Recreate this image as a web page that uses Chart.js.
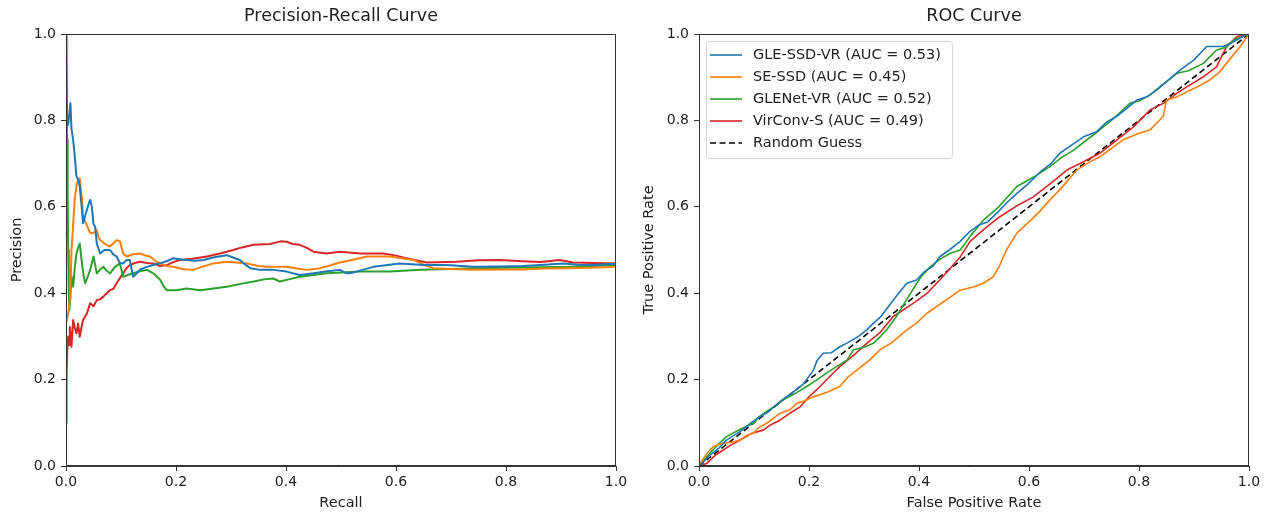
<!DOCTYPE html>
<html>
<head>
<meta charset="utf-8">
<script src="https://cdn.jsdelivr.net/npm/chart.js@4/dist/chart.umd.min.js"></script>
<style>
body{margin:0;background:#fff;width:1276px;height:513px;overflow:hidden;position:relative}
.box{position:absolute;top:0;width:638px;height:513px}
</style>
</head>
<body>
<div class="box" style="left:0"><canvas id="pr"></canvas></div>
<div class="box" style="left:638px"><canvas id="roc"></canvas></div>
<script>
// model names + colours (tab10)
const models = ['GLE-SSD-VR', 'SE-SSD', 'GLENet-VR', 'VirConv-S']
const aucs = [0.53, 0.45, 0.52, 0.49]
const colors = ['#1f77b4', '#ff7f0e', '#2ca02c', '#d62728']
const tickValues = [0, 0.2, 0.4, 0.6, 0.8, 1.0]

// precision-recall curves, [recall, precision]
const prGleSsdVr = [[0,1.0],[0.002,0.80],[0.004,0.79],[0.008,0.84],[0.010,0.78],[0.013,0.755],[0.016,0.716],[0.019,0.67],[0.023,0.66],[0.025,0.647],[0.029,0.593],[0.031,0.562],[0.035,0.58],[0.038,0.593],[0.042,0.61],[0.044,0.616],[0.047,0.60],[0.050,0.56],[0.053,0.554],[0.056,0.515],[0.060,0.50],[0.062,0.492],[0.070,0.50],[0.080,0.50],[0.086,0.49],[0.092,0.485],[0.098,0.47],[0.104,0.469],[0.110,0.477],[0.116,0.477],[0.122,0.438],[0.128,0.445],[0.135,0.455],[0.147,0.461],[0.160,0.466],[0.171,0.469],[0.185,0.475],[0.195,0.481],[0.210,0.478],[0.219,0.477],[0.235,0.475],[0.250,0.477],[0.270,0.483],[0.292,0.488],[0.305,0.482],[0.316,0.477],[0.326,0.466],[0.335,0.458],[0.353,0.454],[0.377,0.454],[0.401,0.450],[0.425,0.442],[0.450,0.446],[0.475,0.451],[0.498,0.454],[0.510,0.446],[0.520,0.447],[0.559,0.461],[0.607,0.469],[0.650,0.465],[0.692,0.465],[0.741,0.461],[0.790,0.462],[0.831,0.463],[0.870,0.466],[0.904,0.469],[0.930,0.466],[0.959,0.465],[0.980,0.467],[1.0,0.468]]
const prSeSsd = [[0,0.33],[0.002,0.34],[0.004,0.353],[0.007,0.384],[0.009,0.45],[0.010,0.50],[0.013,0.56],[0.016,0.62],[0.019,0.647],[0.022,0.664],[0.025,0.666],[0.027,0.64],[0.029,0.616],[0.031,0.577],[0.037,0.56],[0.044,0.539],[0.050,0.54],[0.056,0.546],[0.059,0.53],[0.062,0.523],[0.070,0.515],[0.080,0.508],[0.086,0.515],[0.092,0.523],[0.098,0.52],[0.104,0.492],[0.110,0.485],[0.122,0.49],[0.135,0.492],[0.145,0.487],[0.153,0.485],[0.162,0.475],[0.171,0.469],[0.183,0.463],[0.195,0.461],[0.212,0.456],[0.231,0.454],[0.250,0.462],[0.268,0.469],[0.292,0.473],[0.310,0.471],[0.328,0.469],[0.350,0.463],[0.365,0.461],[0.401,0.461],[0.420,0.457],[0.438,0.454],[0.462,0.458],[0.480,0.464],[0.498,0.471],[0.520,0.477],[0.547,0.485],[0.589,0.485],[0.610,0.481],[0.632,0.477],[0.650,0.466],[0.668,0.458],[0.700,0.456],[0.741,0.454],[0.790,0.455],[0.831,0.455],[0.870,0.457],[0.910,0.458],[0.950,0.459],[0.980,0.460],[1.0,0.461]]
const prGlenetVr = [[0,1.0],[0.001,0.85],[0.002,0.755],[0.003,0.62],[0.004,0.50],[0.005,0.40],[0.006,0.361],[0.008,0.39],[0.010,0.44],[0.013,0.415],[0.016,0.46],[0.019,0.492],[0.022,0.505],[0.025,0.515],[0.029,0.469],[0.032,0.44],[0.035,0.423],[0.040,0.44],[0.044,0.454],[0.050,0.485],[0.056,0.446],[0.062,0.455],[0.068,0.461],[0.074,0.452],[0.080,0.446],[0.089,0.461],[0.098,0.469],[0.104,0.438],[0.112,0.442],[0.122,0.446],[0.135,0.451],[0.147,0.454],[0.159,0.446],[0.171,0.431],[0.178,0.415],[0.183,0.407],[0.201,0.407],[0.219,0.411],[0.244,0.407],[0.268,0.411],[0.292,0.415],[0.315,0.421],[0.341,0.427],[0.360,0.432],[0.377,0.434],[0.389,0.427],[0.405,0.432],[0.425,0.438],[0.450,0.442],[0.474,0.446],[0.500,0.448],[0.535,0.450],[0.589,0.450],[0.644,0.454],[0.700,0.456],[0.741,0.458],[0.800,0.459],[0.862,0.460],[0.922,0.461],[0.960,0.463],[1.0,0.465]]
const prVirconvS = [[0,0.10],[0.001,0.20],[0.002,0.261],[0.004,0.30],[0.006,0.28],[0.007,0.322],[0.010,0.276],[0.013,0.338],[0.016,0.32],[0.019,0.307],[0.022,0.33],[0.025,0.299],[0.028,0.32],[0.031,0.338],[0.038,0.353],[0.044,0.377],[0.050,0.37],[0.056,0.384],[0.062,0.386],[0.068,0.392],[0.074,0.40],[0.080,0.407],[0.086,0.41],[0.092,0.423],[0.098,0.435],[0.104,0.446],[0.110,0.458],[0.116,0.465],[0.125,0.47],[0.135,0.473],[0.147,0.47],[0.159,0.469],[0.171,0.463],[0.183,0.465],[0.195,0.472],[0.207,0.477],[0.230,0.48],[0.256,0.485],[0.280,0.492],[0.304,0.50],[0.320,0.506],[0.341,0.512],[0.371,0.514],[0.390,0.52],[0.401,0.519],[0.412,0.514],[0.425,0.512],[0.438,0.505],[0.450,0.496],[0.474,0.492],[0.498,0.496],[0.535,0.492],[0.577,0.492],[0.600,0.487],[0.619,0.481],[0.656,0.471],[0.710,0.473],[0.750,0.476],[0.789,0.477],[0.830,0.474],[0.862,0.472],[0.898,0.477],[0.922,0.471],[0.960,0.470],[1.0,0.469]]

// roc curves, [fpr, tpr]
const rocGleSsdVr = [[0,0],[0.02,0.025],[0.035,0.04],[0.05,0.06],[0.075,0.08],[0.10,0.105],[0.125,0.125],[0.15,0.152],[0.17,0.17],[0.19,0.19],[0.208,0.222],[0.215,0.245],[0.226,0.261],[0.24,0.262],[0.256,0.276],[0.27,0.285],[0.29,0.30],[0.305,0.315],[0.317,0.33],[0.33,0.345],[0.345,0.37],[0.36,0.395],[0.378,0.423],[0.395,0.43],[0.41,0.45],[0.425,0.462],[0.438,0.485],[0.455,0.50],[0.475,0.52],[0.49,0.54],[0.509,0.558],[0.525,0.565],[0.545,0.59],[0.56,0.61],[0.578,0.631],[0.60,0.655],[0.62,0.68],[0.64,0.70],[0.656,0.724],[0.68,0.745],[0.699,0.762],[0.723,0.774],[0.74,0.795],[0.759,0.809],[0.78,0.83],[0.796,0.847],[0.815,0.855],[0.832,0.870],[0.855,0.895],[0.875,0.917],[0.90,0.94],[0.923,0.971],[0.953,0.971],[0.972,0.982],[0.996,1.0],[1,1]]
const rocSeSsd = [[0,0],[0.002,0.006],[0.015,0.03],[0.026,0.045],[0.044,0.053],[0.06,0.055],[0.075,0.060],[0.085,0.07],[0.099,0.076],[0.11,0.09],[0.123,0.099],[0.135,0.11],[0.147,0.122],[0.165,0.13],[0.178,0.145],[0.19,0.15],[0.208,0.160],[0.235,0.172],[0.256,0.184],[0.27,0.205],[0.287,0.222],[0.31,0.245],[0.329,0.269],[0.35,0.285],[0.378,0.315],[0.395,0.33],[0.414,0.353],[0.435,0.372],[0.456,0.39],[0.475,0.407],[0.50,0.415],[0.517,0.423],[0.535,0.438],[0.547,0.465],[0.559,0.50],[0.578,0.539],[0.60,0.565],[0.62,0.59],[0.638,0.616],[0.66,0.645],[0.687,0.685],[0.705,0.70],[0.729,0.716],[0.75,0.735],[0.771,0.755],[0.80,0.77],[0.82,0.778],[0.844,0.809],[0.85,0.847],[0.87,0.855],[0.893,0.870],[0.91,0.88],[0.929,0.894],[0.945,0.91],[0.959,0.932],[0.984,0.971],[1,1]]
const rocGlenetVr = [[0,0],[0.02,0.03],[0.035,0.05],[0.05,0.068],[0.075,0.085],[0.099,0.099],[0.11,0.115],[0.125,0.128],[0.14,0.14],[0.153,0.153],[0.175,0.168],[0.196,0.184],[0.215,0.20],[0.232,0.215],[0.25,0.23],[0.269,0.245],[0.281,0.269],[0.30,0.275],[0.317,0.284],[0.33,0.30],[0.341,0.315],[0.359,0.346],[0.375,0.38],[0.396,0.423],[0.405,0.44],[0.42,0.461],[0.44,0.48],[0.456,0.492],[0.475,0.50],[0.495,0.535],[0.517,0.569],[0.545,0.60],[0.578,0.647],[0.61,0.67],[0.638,0.693],[0.66,0.715],[0.68,0.73],[0.70,0.75],[0.723,0.772],[0.75,0.80],[0.784,0.840],[0.800,0.845],[0.820,0.859],[0.845,0.885],[0.869,0.909],[0.89,0.915],[0.917,0.932],[0.941,0.963],[0.96,0.97],[0.972,0.986],[1,1]]
const rocVirconvS = [[0,0],[0.014,0.006],[0.03,0.025],[0.044,0.037],[0.06,0.05],[0.075,0.060],[0.095,0.075],[0.117,0.083],[0.13,0.095],[0.147,0.106],[0.165,0.122],[0.184,0.137],[0.20,0.16],[0.22,0.184],[0.24,0.21],[0.256,0.230],[0.28,0.255],[0.305,0.284],[0.33,0.31],[0.353,0.346],[0.37,0.36],[0.39,0.377],[0.415,0.40],[0.438,0.431],[0.455,0.455],[0.475,0.484],[0.493,0.52],[0.52,0.55],[0.547,0.577],[0.575,0.60],[0.608,0.623],[0.64,0.655],[0.669,0.685],[0.70,0.705],[0.729,0.724],[0.76,0.755],[0.79,0.785],[0.82,0.824],[0.845,0.84],[0.869,0.863],[0.89,0.88],[0.917,0.901],[0.941,0.924],[0.959,0.971],[0.978,0.994],[1,1]]
const randomGuess = [[0,0],[1,1]]

const FONT = 'DejaVu Sans'
const INK = '#222'

function pts(arr){
    return arr.map(([x,y]) => ({x, y}))
}

// full box round the plot area, like matplotlib spines
const frame = {
    id: 'frame',
    afterDraw(chart){
        const {ctx, chartArea: a} = chart
        ctx.save()
        ctx.strokeStyle = '#333'
        ctx.lineWidth = 1
        ctx.strokeRect(Math.round(a.left) + 0.5, Math.round(a.top) + 0.5,
            Math.round(a.width) - 1, Math.round(a.height) - 1)
        ctx.restore()
    }
}

// legend inside the plot, upper left
const innerLegend = {
    id: 'innerLegend',
    afterDraw(chart){
        const {ctx, chartArea: a} = chart
        const x0 = a.left + 7, y0 = a.top + 7
        const w = 246, h = 117
        ctx.save()
        ctx.fillStyle = 'rgba(255,255,255,0.8)'
        ctx.strokeStyle = '#d6d6d6'
        ctx.lineWidth = 1
        ctx.beginPath()
        ctx.roundRect(x0 + 0.5, y0 + 0.5, w, h, 3)
        ctx.fill()
        ctx.stroke()
        ctx.font = `14.5px "${FONT}"`
        ctx.textBaseline = 'middle'
        chart.data.datasets.forEach((ds, i) => {
            const y = y0 + 14 + i * 22
            ctx.strokeStyle = ds.borderColor
            ctx.lineWidth = ds.borderWidth
            ctx.setLineDash(ds.borderDash || [])
            ctx.beginPath()
            ctx.moveTo(x0 + 4, y)
            ctx.lineTo(x0 + 36, y)
            ctx.stroke()
            ctx.setLineDash([])
            ctx.fillStyle = INK
            ctx.fillText(ds.label, x0 + 47, y)
        })
        ctx.restore()
    }
}

function scale(title, size, titlePad, isY){
    return {
        type: 'linear',
        min: 0, max: 1,
        afterFit: s => { if(isY) s.width = size; else s.height = size },
        afterBuildTicks: s => { s.ticks = tickValues.map(v => ({value: v})) },
        ticks: {
            color: INK,
            padding: isY ? 5 : 3,
            font: {family: FONT, size: 14},
            callback: v => v.toFixed(1)
        },
        grid: {drawOnChartArea: false, drawTicks: true, tickLength: 5, color: '#333'},
        border: {display: true, color: '#333'},
        title: {display: true, text: title, color: INK, font: {family: FONT, size: 14.5}, padding: titlePad}
    }
}

function makeChart(id, titleText, datasets, yWidth, padRight, xTitle, yTitle, yTitlePad, plugins){
    const ctx = document.getElementById(id).getContext('2d')
    return new Chart(ctx, {
        type: 'scatter',
        data: {datasets},
        options: {
            responsive: true,
            maintainAspectRatio: false,
            animation: false,
            layout: {padding: {left: 0, right: padRight, top: 0, bottom: 0}},
            scales: {
                x: scale(xTitle, 47, {top: 0, bottom: 1}, false),
                y: scale(yTitle, yWidth, {top: yTitlePad, bottom: 0}, true)
            },
            plugins: {
                legend: {display: false},
                tooltip: {enabled: false},
                title: {
                    display: true, text: titleText, color: INK, fullSize: false,
                    font: {family: FONT, size: 17.5, weight: 'normal'},
                    padding: {top: 6, bottom: 7}
                }
            }
        },
        plugins: plugins
    })
}

function line(label, data, color, width, dash){
    return {
        label, data: pts(data), showLine: true, borderColor: color, backgroundColor: color,
        borderWidth: width, borderDash: dash, pointRadius: 0, fill: false, tension: 0,
        borderJoinStyle: 'round'
    }
}

const prSeries = [prGleSsdVr, prSeSsd, prGlenetVr, prVirconvS]
const rocSeries = [rocGleSsdVr, rocSeSsd, rocGlenetVr, rocVirconvS]

makeChart('pr', 'Precision-Recall Curve',
    prSeries.map((d, i) => line(models[i], d, colors[i], 2)),
    66, 22, 'Recall', 'Precision', 9, [frame])

const rocSets = rocSeries.map((d, i) => line(`${models[i]} (AUC = ${aucs[i].toFixed(2)})`, d, colors[i], 1.6))
rocSets.push(line('Random Guess', randomGuess, '#000', 1.6, [6, 3.5]))
makeChart('roc', 'ROC Curve', rocSets, 61, 27, 'False Positive Rate', 'True Positive Rate', 3, [frame, innerLegend])
</script>
</body>
</html>
